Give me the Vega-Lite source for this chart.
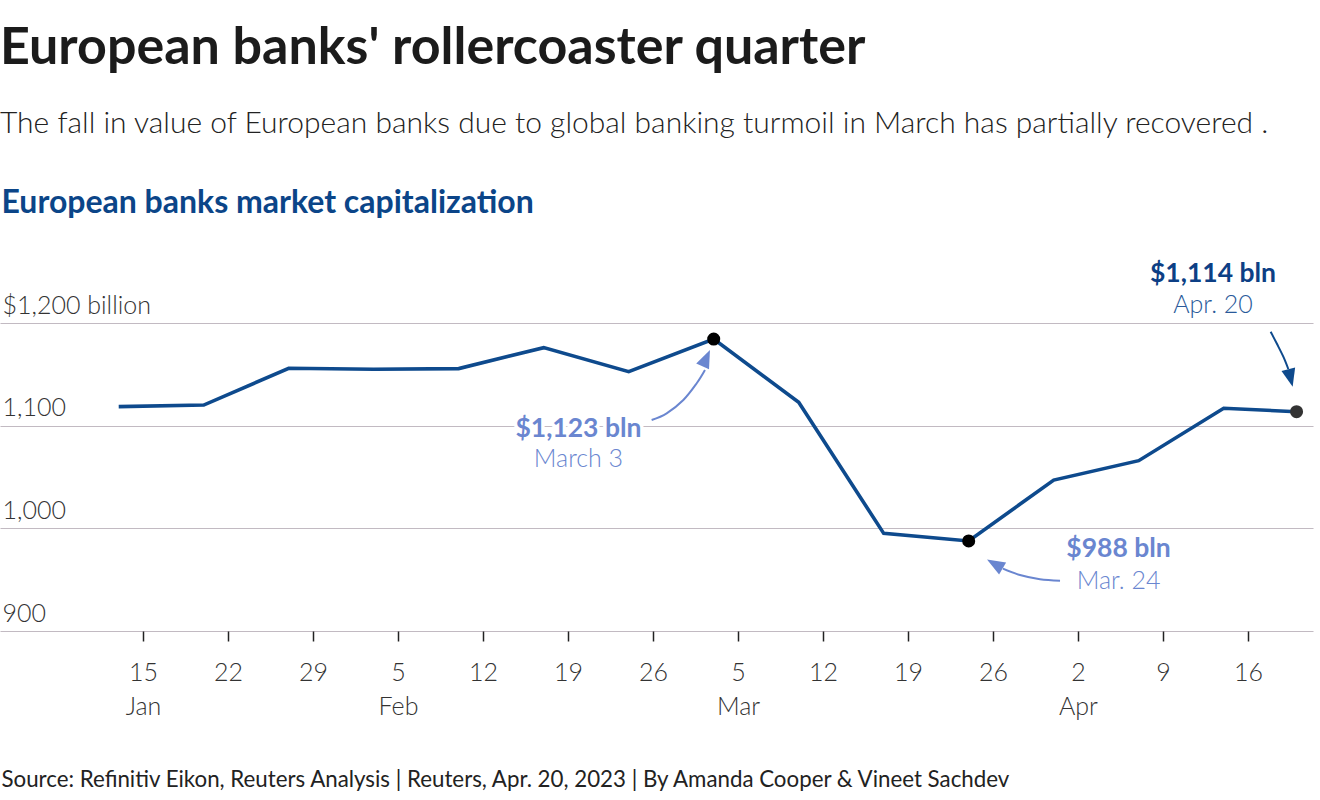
{
  "$schema": "https://vega.github.io/schema/vega-lite/v6.json",
  "width": 1313,
  "height": 308,
  "autosize": {"type": "none"},
  "padding": {"left": 0, "top": 323, "right": 7, "bottom": 169},
  "background": "white",
  "title": {
    "text": "European banks' rollercoaster quarter",
    "subtitle": "The fall in value of European banks due to global banking turmoil in March has partially recovered .",
    "anchor": "start",
    "frame": "group",
    "fontSize": 52,
    "fontWeight": "bold",
    "color": "#1b1b1b",
    "subtitleFontSize": 30,
    "subtitleFontWeight": 300,
    "subtitleColor": "#222222",
    "subtitlePadding": 34,
    "offset": 46
  },
  "config": {
    "font": "Lato",
    "view": {"stroke": null},
    "axis": {"labelFont": "Lato", "titleFont": "Lato"}
  },
  "datasets": {
    "cap": [
      {"date": "2023-01-13", "value": 1118.5, "point": "none"},
      {"date": "2023-01-20", "value": 1120.1, "point": "none"},
      {"date": "2023-01-27", "value": 1155.9, "point": "none"},
      {"date": "2023-02-03", "value": 1154.9, "point": "none"},
      {"date": "2023-02-10", "value": 1155.6, "point": "none"},
      {"date": "2023-02-17", "value": 1176.0, "point": "none"},
      {"date": "2023-02-24", "value": 1152.6, "point": "none"},
      {"date": "2023-03-03", "value": 1184.4, "point": "peak"},
      {"date": "2023-03-10", "value": 1122.7, "point": "none"},
      {"date": "2023-03-17", "value": 995.1, "point": "none"},
      {"date": "2023-03-24", "value": 987.7, "point": "trough"},
      {"date": "2023-03-31", "value": 1047.0, "point": "none"},
      {"date": "2023-04-07", "value": 1065.9, "point": "none"},
      {"date": "2023-04-14", "value": 1116.9, "point": "none"},
      {"date": "2023-04-20", "value": 1113.6, "point": "latest"}
    ],
    "notes": [
      {"note": "peak", "kind": "value", "label": "$1,123 bln", "date": "2023-02-19T20:40:00Z", "value": 1089.3},
      {"note": "peak", "kind": "date", "label": "March 3", "date": "2023-02-19T20:40:00Z", "value": 1059.7},
      {"note": "trough", "kind": "value", "label": "$988 bln", "date": "2023-04-05T08:10:00Z", "value": 972.1},
      {"note": "trough", "kind": "date", "label": "Mar. 24", "date": "2023-04-05T08:10:00Z", "value": 940.9},
      {"note": "latest", "kind": "value", "label": "$1,114 bln", "date": "2023-04-13T02:50:00Z", "value": 1239.9},
      {"note": "latest", "kind": "date", "label": "Apr. 20", "date": "2023-04-13T02:50:00Z", "value": 1209.7}
    ],
    "arrows": [
      {"note": "peak", "date": "2023-02-25T21:20:00Z", "value": 1105.5},
      {"note": "peak", "date": "2023-02-27T03:05:00Z", "value": 1112.0},
      {"note": "peak", "date": "2023-02-28T12:00:00Z", "value": 1125.0},
      {"note": "peak", "date": "2023-03-01T14:25:00Z", "value": 1141.3},
      {"note": "peak", "date": "2023-03-02T06:45:00Z", "value": 1154.2},
      {"note": "trough", "date": "2023-03-31T12:30:00Z", "value": 949.0},
      {"note": "trough", "date": "2023-03-29T20:50:00Z", "value": 950.4},
      {"note": "trough", "date": "2023-03-28T05:20:00Z", "value": 954.5},
      {"note": "trough", "date": "2023-03-26T19:40:00Z", "value": 960.7},
      {"note": "latest", "date": "2023-04-17T20:50:00Z", "value": 1191.5},
      {"note": "latest", "date": "2023-04-18T08:40:00Z", "value": 1180.2},
      {"note": "latest", "date": "2023-04-18T21:50:00Z", "value": 1167.2},
      {"note": "latest", "date": "2023-04-19T07:40:00Z", "value": 1155.2}
    ],
    "heads": [
      {"note": "peak", "date": "2023-03-02T09:20:00Z", "value": 1165.7},
      {"note": "trough", "date": "2023-03-26T03:35:00Z", "value": 965.3},
      {"note": "latest", "date": "2023-04-19T12:00:00Z", "value": 1146.4}
    ]
  },
  "layer": [
    {
      "data": {"name": "cap"},
      "mark": {"type": "line", "color": "#0e4a8d", "strokeWidth": 3.6, "strokeJoin": "miter"},
      "encoding": {
        "x": {
          "field": "date",
          "type": "temporal",
          "scale": {
            "type": "utc",
            "domain": [
              {"year": 2023, "month": 1, "date": 3, "hours": 5, "minutes": 22, "utc": true},
              {"year": 2023, "month": 4, "date": 21, "hours": 8, "minutes": 30, "utc": true}
            ]
          },
          "axis": {
            "values": [
              {"year": 2023, "month": 1, "date": 15, "utc": true},
              {"year": 2023, "month": 1, "date": 22, "utc": true},
              {"year": 2023, "month": 1, "date": 29, "utc": true},
              {"year": 2023, "month": 2, "date": 5, "utc": true},
              {"year": 2023, "month": 2, "date": 12, "utc": true},
              {"year": 2023, "month": 2, "date": 19, "utc": true},
              {"year": 2023, "month": 2, "date": 26, "utc": true},
              {"year": 2023, "month": 3, "date": 5, "utc": true},
              {"year": 2023, "month": 3, "date": 12, "utc": true},
              {"year": 2023, "month": 3, "date": 19, "utc": true},
              {"year": 2023, "month": 3, "date": 26, "utc": true},
              {"year": 2023, "month": 4, "date": 2, "utc": true},
              {"year": 2023, "month": 4, "date": 9, "utc": true},
              {"year": 2023, "month": 4, "date": 16, "utc": true}
            ],
            "labelExpr": "utcdate(datum.value) <= 7 || (utcmonth(datum.value) == 0 && utcdate(datum.value) == 15) ? [utcFormat(datum.value, '%-d'), utcFormat(datum.value, '%b')] : utcFormat(datum.value, '%-d')",
            "domain": false,
            "grid": false,
            "ticks": true,
            "tickColor": "#222222",
            "tickSize": 10,
            "tickWidth": 1.5,
            "labelFontSize": 25,
            "labelFontWeight": 300,
            "labelColor": "#333333",
            "labelBaseline": "alphabetic",
            "labelPadding": 39,
            "labelLineHeight": 34,
            "labelAlign": "center",
            "labelOverlap": false,
            "labelFlush": false,
            "title": "Source: Refinitiv Eikon, Reuters Analysis | Reuters, Apr. 20, 2023 | By Amanda Cooper & Vineet Sachdev",
            "titleFontSize": 22.3,
            "titleFontWeight": "normal",
            "titleColor": "#222222",
            "titleAlign": "left",
            "titleBaseline": "alphabetic",
            "titleX": 1,
            "titleY": 155
          }
        },
        "y": {
          "field": "value",
          "type": "quantitative",
          "scale": {"domain": [900, 1200], "zero": false, "nice": false},
          "axis": {
            "values": [900, 1000, 1100, 1200],
            "labelExpr": "datum.value == 1200 ? '$1,200 billion' : format(datum.value, ',')",
            "domain": false,
            "ticks": false,
            "grid": true,
            "gridColor": "#c2bac2",
            "gridWidth": 1.2,
            "labelAlign": "left",
            "labelBaseline": "alphabetic",
            "labelPadding": -2,
            "labelOffset": -10,
            "labelFontSize": 25,
            "labelFontWeight": 300,
            "labelColor": "#333333",
            "title": "European banks market capitalization",
            "titleFontSize": 32,
            "titleFontWeight": "bold",
            "titleColor": "#0b4588",
            "titleAngle": 0,
            "titleAlign": "left",
            "titleBaseline": "alphabetic",
            "titleX": 1,
            "titleY": -111
          }
        }
      }
    },
    {
      "data": {"name": "cap"},
      "transform": [{"filter": "datum.point != 'none'"}],
      "mark": {"type": "point", "filled": true, "opacity": 1, "size": 170},
      "encoding": {
        "x": {"field": "date", "type": "temporal"},
        "y": {"field": "value", "type": "quantitative"},
        "color": {"condition": {"test": "datum.point == 'latest'", "value": "#333333"}, "value": "#000000"}
      }
    },
    {
      "data": {"name": "arrows"},
      "mark": {"type": "line", "interpolate": "cardinal", "strokeWidth": 2},
      "encoding": {
        "x": {"field": "date", "type": "temporal"},
        "y": {"field": "value", "type": "quantitative"},
        "detail": {"field": "note"},
        "color": {"condition": {"test": "datum.note == 'latest'", "value": "#0e4a8d"}, "value": "#6a86d0"}
      }
    },
    {
      "data": {"name": "heads"},
      "mark": {"type": "point", "filled": true, "opacity": 1, "size": 324, "shape": "M0,-1L-0.78,1L0.78,1Z"},
      "encoding": {
        "x": {"field": "date", "type": "temporal"},
        "y": {"field": "value", "type": "quantitative"},
        "angle": {"condition": [{"test": "datum.note == 'peak'", "value": 24}, {"test": "datum.note == 'trough'", "value": 300}], "value": 166},
        "color": {"condition": {"test": "datum.note == 'latest'", "value": "#0e4a8d"}, "value": "#6a86d0"}
      }
    },
    {
      "data": {"name": "notes"},
      "transform": [{"filter": "datum.kind == 'value'"}],
      "mark": {"type": "text", "fontSize": 26.5, "fontWeight": "bold", "align": "center", "baseline": "alphabetic", "stroke": "white", "strokeWidth": 7, "strokeJoin": "round", "fill": "white"},
      "encoding": {
        "x": {"field": "date", "type": "temporal"},
        "y": {"field": "value", "type": "quantitative"},
        "text": {"field": "label"}
      }
    },
    {
      "data": {"name": "notes"},
      "transform": [{"filter": "datum.kind == 'date'"}],
      "mark": {"type": "text", "fontSize": 25, "fontWeight": 300, "align": "center", "baseline": "alphabetic", "stroke": "white", "strokeWidth": 7, "strokeJoin": "round", "fill": "white"},
      "encoding": {
        "x": {"field": "date", "type": "temporal"},
        "y": {"field": "value", "type": "quantitative"},
        "text": {"field": "label"}
      }
    },
    {
      "data": {"name": "notes"},
      "transform": [{"filter": "datum.kind == 'value'"}],
      "mark": {"type": "text", "fontSize": 26.5, "fontWeight": "bold", "align": "center", "baseline": "alphabetic"},
      "encoding": {
        "x": {"field": "date", "type": "temporal"},
        "y": {"field": "value", "type": "quantitative"},
        "text": {"field": "label"},
        "color": {"condition": {"test": "datum.note == 'latest'", "value": "#0d3f85"}, "value": "#6a86d0"}
      }
    },
    {
      "data": {"name": "notes"},
      "transform": [{"filter": "datum.kind == 'date'"}],
      "mark": {"type": "text", "fontSize": 25, "fontWeight": 300, "align": "center", "baseline": "alphabetic"},
      "encoding": {
        "x": {"field": "date", "type": "temporal"},
        "y": {"field": "value", "type": "quantitative"},
        "text": {"field": "label"},
        "color": {"condition": {"test": "datum.note == 'latest'", "value": "#2a5a9a"}, "value": "#6a86d0"}
      }
    }
  ]
}
